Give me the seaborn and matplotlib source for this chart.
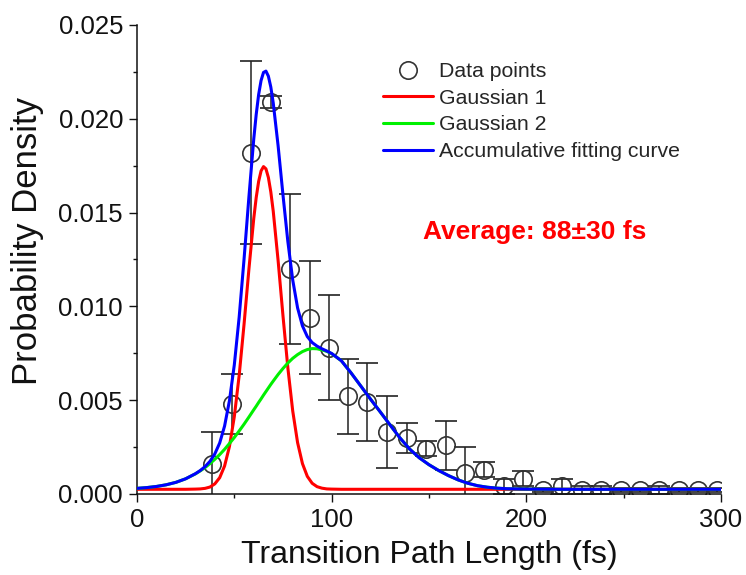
import numpy as np
import pandas as pd
import matplotlib
matplotlib.use("Agg")
import matplotlib.pyplot as plt
from matplotlib.ticker import MultipleLocator, FormatStrFormatter
from matplotlib.lines import Line2D
import seaborn as sns

# ---------------- data ----------------
point_x = [38.4, 48.6, 58.6, 68.8, 78.6, 88.9, 98.6, 108.5, 118.3, 128.2,
           138.5, 148.4, 158.5, 168.5, 178.4, 188.5, 198.4, 208.4, 218.1, 228.4,
           238.3, 248.4, 258.3, 268.3, 278.4, 288.3, 297.7]
point_y = [0.0016, 0.0048, 0.0182, 0.0209, 0.0120, 0.0094, 0.0078, 0.0052, 0.0049, 0.0033,
           0.0030, 0.0024, 0.0026, 0.0011, 0.0013, 0.0004, 0.0008, 0.0002, 0.0004, 0.0002,
           0.0002, 0.0002, 0.0002, 0.0002, 0.0002, 0.0002, 0.0002]
point_err = [0.0017, 0.0016, 0.0049, 0.0003, 0.0040, 0.0030, 0.0028, 0.0020, 0.0021, 0.0019,
             0.0008, 0.0004, 0.0013, 0.0014, 0.0004, 0.0004, 0.0004, 0.0001, 0.0004, 0.0002,
             0.0002, 0.0001, 0.0001, 0.0002, 0.0001, 0.0001, 0.0001]

curve_x = [0, 5, 10, 15, 20, 25, 30, 32.5, 35, 37.5, 40, 42.5, 45, 47.5, 50, 52.5, 55, 57.5,
           60, 61.25, 62.5, 63.75, 65, 66.25, 67.5, 68.75, 70, 72.5, 75, 77.5, 80, 82.5,
           85, 87.5, 90, 92.5, 95, 97.5,
           100, 105, 110, 115, 120, 125, 130, 135, 140, 145, 150, 155, 160, 165, 170, 175,
           180, 185, 190, 195, 200, 220, 240, 260, 280, 300]
gauss1_y = [0.00025, 0.00025, 0.00025, 0.00025, 0.00025, 0.00025, 0.00026, 0.00027, 0.00030,
            0.00037, 0.00054, 0.00087, 0.00149, 0.00253, 0.00412, 0.00632, 0.00904, 0.01198,
            0.01469, 0.01580, 0.01666, 0.01722, 0.01745, 0.01733, 0.01687, 0.01610, 0.01507,
            0.01244, 0.00950, 0.00673, 0.00443, 0.00274,
            0.00162, 0.00094, 0.00057, 0.00039, 0.00031, 0.00027,
            0.00026, 0.00025, 0.00025, 0.00025, 0.00025, 0.00025, 0.00025, 0.00025, 0.00025,
            0.00025, 0.00025, 0.00025, 0.00025, 0.00025, 0.00025, 0.00025, 0.00025, 0.00025,
            0.00025, 0.00025, 0.00025, 0.00025, 0.00025, 0.00025, 0.00025, 0.00025]
gauss2_y = [0.00030, 0.00034, 0.00040, 0.00049, 0.00062, 0.00081, 0.00107, 0.00123, 0.00141,
            0.00162, 0.00185, 0.00210, 0.00238, 0.00269, 0.00301, 0.00336, 0.00372, 0.00410,
            0.00449, 0.00468, 0.00488, 0.00507, 0.00527, 0.00546, 0.00565, 0.00584, 0.00602,
            0.00637, 0.00669, 0.00698, 0.00723, 0.00743,
            0.00759, 0.00770, 0.00775, 0.00774, 0.00768, 0.00760,
            0.00748, 0.00710, 0.00645, 0.00575, 0.00505, 0.00437, 0.00368, 0.00300, 0.00240,
            0.00193, 0.00156, 0.00125, 0.00098, 0.00075, 0.00057, 0.00044, 0.00036, 0.00031,
            0.00028, 0.00027, 0.00026, 0.00025, 0.00025, 0.00025, 0.00025, 0.00025]
total_y = [0.00030, 0.00034, 0.00040, 0.00049, 0.00062, 0.00081, 0.00108, 0.00125, 0.00146,
           0.00174, 0.00214, 0.00272, 0.00362, 0.00497, 0.00688, 0.00943, 0.01251, 0.01583,
           0.01893, 0.02023, 0.02129, 0.02204, 0.02247, 0.02254, 0.02227, 0.02169, 0.02084,
           0.01856, 0.01594, 0.01346, 0.01141, 0.00992,
           0.00896, 0.00839, 0.00807, 0.00788, 0.00774, 0.00762,
           0.00749, 0.00710, 0.00645, 0.00575, 0.00505, 0.00437, 0.00368, 0.00300, 0.00240,
           0.00193, 0.00156, 0.00125, 0.00098, 0.00075, 0.00057, 0.00044, 0.00036, 0.00031,
           0.00028, 0.00027, 0.00026, 0.00025, 0.00025, 0.00025, 0.00025, 0.00025]

legend_labels = ["Data points", "Gaussian 1", "Gaussian 2", "Accumulative fitting curve"]
annotation = "Average: 88\u00b130 fs"
x_label = "Transition Path Length (fs)"
y_label = "Probability Density"

# ---------------- styling ----------------
sns.set_theme(style="ticks")
plt.rcParams["font.family"] = ["Liberation Sans", "DejaVu Sans"]

RED, GREEN, BLUE = "#ff0000", "#00f000", "#0000ff"

fig = plt.figure(figsize=(7.46, 5.75), dpi=100)
ax = fig.add_axes([0.1836, 0.1409, 0.7829, 0.8157])

curves = pd.DataFrame({"x": curve_x, "g1": gauss1_y, "g2": gauss2_y, "tot": total_y})

# data points with error bars
ax.errorbar(point_x, point_y, yerr=point_err, fmt="o", ms=12.5, mfc="none",
            mec="#333333", mew=1.2, ecolor="#222222", elinewidth=1.1,
            capsize=8, capthick=1.1, zorder=2)

sns.lineplot(data=curves, x="x", y="g1", color=RED, lw=2.2, ax=ax, zorder=3)
sns.lineplot(data=curves, x="x", y="g2", color=GREEN, lw=2.2, ax=ax, zorder=3)
sns.lineplot(data=curves, x="x", y="tot", color=BLUE, lw=2.2, ax=ax, zorder=4)

ax.set_xlim(0, 300)
ax.set_ylim(0, 0.025)
ax.xaxis.set_major_locator(MultipleLocator(100))
ax.xaxis.set_minor_locator(MultipleLocator(50))
ax.yaxis.set_major_locator(MultipleLocator(0.005))
ax.yaxis.set_minor_locator(MultipleLocator(0.0025))
ax.yaxis.set_major_formatter(FormatStrFormatter("%.3f"))

ax.tick_params(which="major", direction="out", length=6, width=1.0,
               labelsize=18.5, pad=4, colors="#111111")
ax.tick_params(which="minor", direction="out", length=3, width=1.0, colors="#111111")
for s in ["left", "bottom"]:
    ax.spines[s].set_linewidth(1.1)
    ax.spines[s].set_color("#111111")
sns.despine(ax=ax)

ax.set_xlabel(x_label, fontsize=23, color="#111111")
ax.set_ylabel(y_label, fontsize=25, color="#111111")
ax.xaxis.set_label_coords(0.5, -0.099)
ax.yaxis.set_label_coords(-0.159, 0.539)

handles = [
    Line2D([], [], ls="none", marker="o", ms=12.5, mfc="none", mec="#333333", mew=1.2),
    Line2D([], [], color=RED, lw=2.2),
    Line2D([], [], color=GREEN, lw=2.2),
    Line2D([], [], color=BLUE, lw=2.2),
]
ax.legend(handles, legend_labels, loc="upper left", bbox_to_anchor=(0.421, 0.921),
          frameon=False, fontsize=15.3, handlelength=2.35, handletextpad=0.3,
          labelspacing=0.36, borderpad=0, borderaxespad=0)

ax.text(0.4897, 0.5593, annotation, transform=ax.transAxes, color=RED,
        fontsize=19, fontweight="bold", ha="left", va="center")

fig.savefig("out.png", dpi=100)
